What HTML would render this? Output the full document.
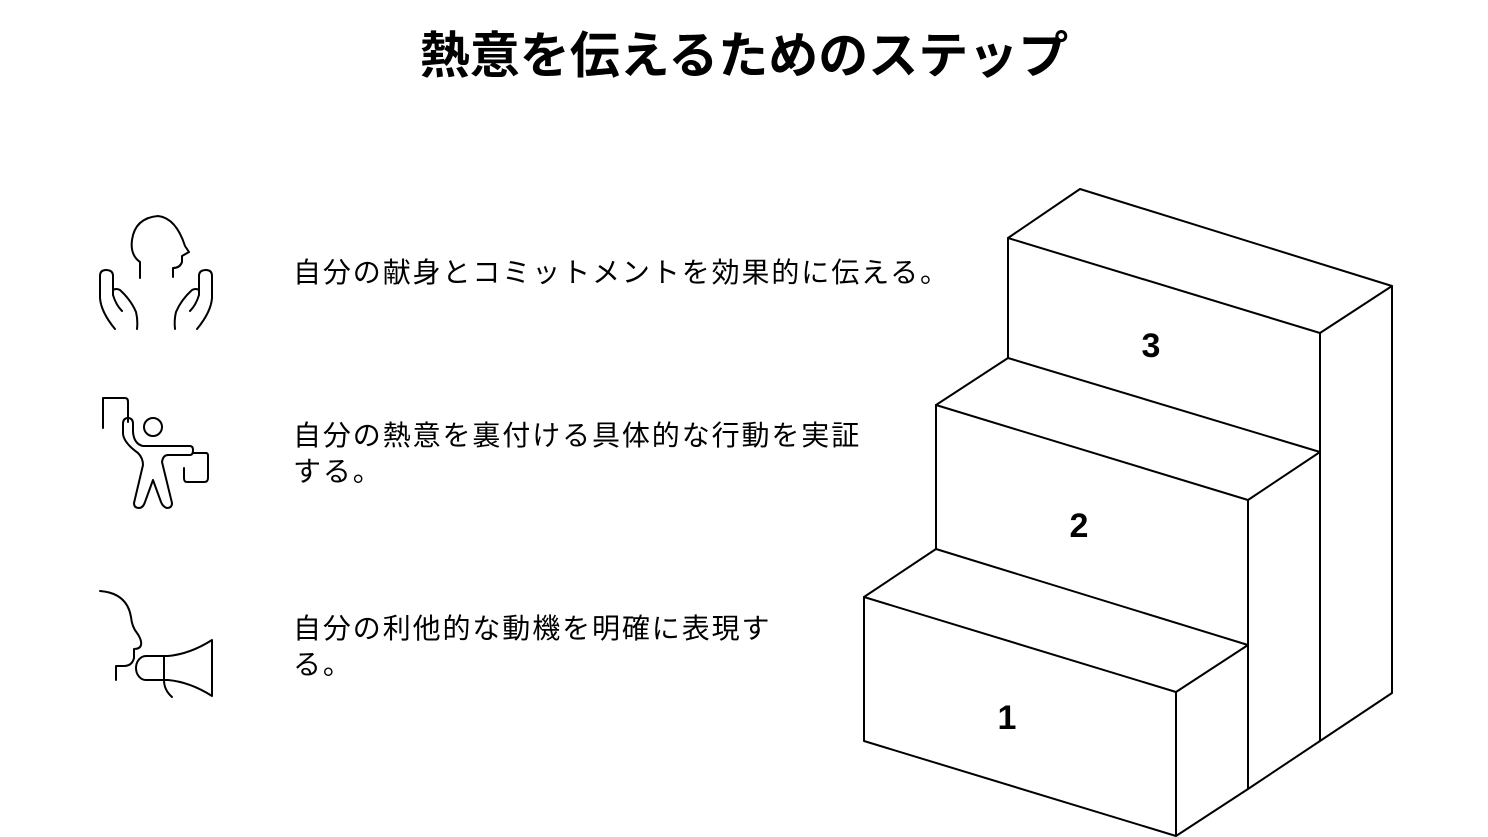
<!DOCTYPE html>
<html><head><meta charset="utf-8"><style>
html,body{margin:0;padding:0;background:#fff;}
body{width:1488px;height:837px;position:relative;overflow:hidden;font-family:"Liberation Sans","Noto Sans CJK JP",sans-serif;color:#000;}
.t{position:absolute;left:0;width:1488px;top:24px;text-align:center;font-size:50px;font-weight:bold;line-height:64px;}
.p{position:absolute;left:293px;font-size:28px;letter-spacing:1.9px;line-height:36px;white-space:nowrap;}
svg{position:absolute;left:0;top:0;}
</style></head><body>
<div class="t">熱意を伝えるためのステップ</div>
<div class="p" style="top:255px">自分の献身とコミットメントを効果的に伝える。</div>
<div class="p" style="top:418px">自分の熱意を裏付ける具体的な行動を実証<br>する。</div>
<div class="p" style="top:611px">自分の利他的な動機を明確に表現す<br>る。</div>
<svg width="1488" height="837" viewBox="0 0 1488 837" fill="none" stroke="#000" stroke-width="2" stroke-linejoin="round" stroke-linecap="round">
<path d="M140 278 V262 Q130 255 132 240 Q135 218 158 216 Q176 218 185 246 L189 252 L182 256 V262 Q180 268 173 268 V277"/>
<path d="M115 329 Q101 312 100 298 V276 Q100 270 106 270 Q113 270 113 276 V295 Q116 305 122 311 M113 290 Q116 288 120 290 Q131 300 136 312 Q138 320 137 329"/>
<path d="M197 329 Q211 312 212 298 V276 Q212 270 206 270 Q199 270 199 276 V295 Q196 305 190 311 M199 290 Q196 288 192 290 Q181 300 176 312 Q174 320 175 329"/>
<path d="M103 428 V398 H125 Q128 398 128 402 V422"/>
<circle cx="153" cy="427" r="9"/>
<path d="M123 424 Q123 418 128 418 Q133 418 133 424 V432 Q134 444 143 446 H190 Q193 446 193 450 Q193 455 190 455 H168 Q163 455 162 462 L172 503 Q172 508 167 508 Q163 507 161 502 L153 480 L145 502 Q143 508 139 508 Q134 508 134 503 L143 465 Q143 458 138 453 Q124 443 123 434 Z"/>
<path d="M193 453 H206 Q208 453 208 456 V478 Q208 482 204 482 H187 Q184 482 184 478 V468"/>
<path d="M100 591 Q127 593 131 617 Q132 627 137 633 Q142 640 141 645 Q140 649 134 649 V658 Q132 666 124 666 H116 V680"/>
<path d="M168 656 H146 Q146 656 146 656 A10 12 0 0 0 146 680 H168 Q190 682 212 696 V640 Q190 654 168 656 Z M164 656 V680 Q164 690 172 697"/>
<g stroke-width="2">
<path d="M1008 238 L1080 189 L1392 286 L1320 333 Z"/>
<path d="M1008 238 V358 M1320 333 V741 M1392 286 V693 L1320 741"/>
<path d="M1008 358 L1320 452"/>
<path d="M936 405 L1008 358 M936 405 L1248 500 L1320 452"/>
<path d="M936 405 V549 M1248 500 V789 L1320 741"/>
<path d="M936 549 L1248 645"/>
<path d="M864 597 L936 549 M864 597 L1176 692 L1248 645"/>
<path d="M864 597 V741 L1176 836 L1248 789 M1176 692 V836"/>
</g>
</svg>
<div style="position:absolute;left:1131px;top:326px;width:40px;text-align:center;font-size:34px;font-weight:bold;line-height:40px">3</div>
<div style="position:absolute;left:1059px;top:506px;width:40px;text-align:center;font-size:34px;font-weight:bold;line-height:40px">2</div>
<div style="position:absolute;left:987px;top:698px;width:40px;text-align:center;font-size:34px;font-weight:bold;line-height:40px">1</div>
</body></html>
